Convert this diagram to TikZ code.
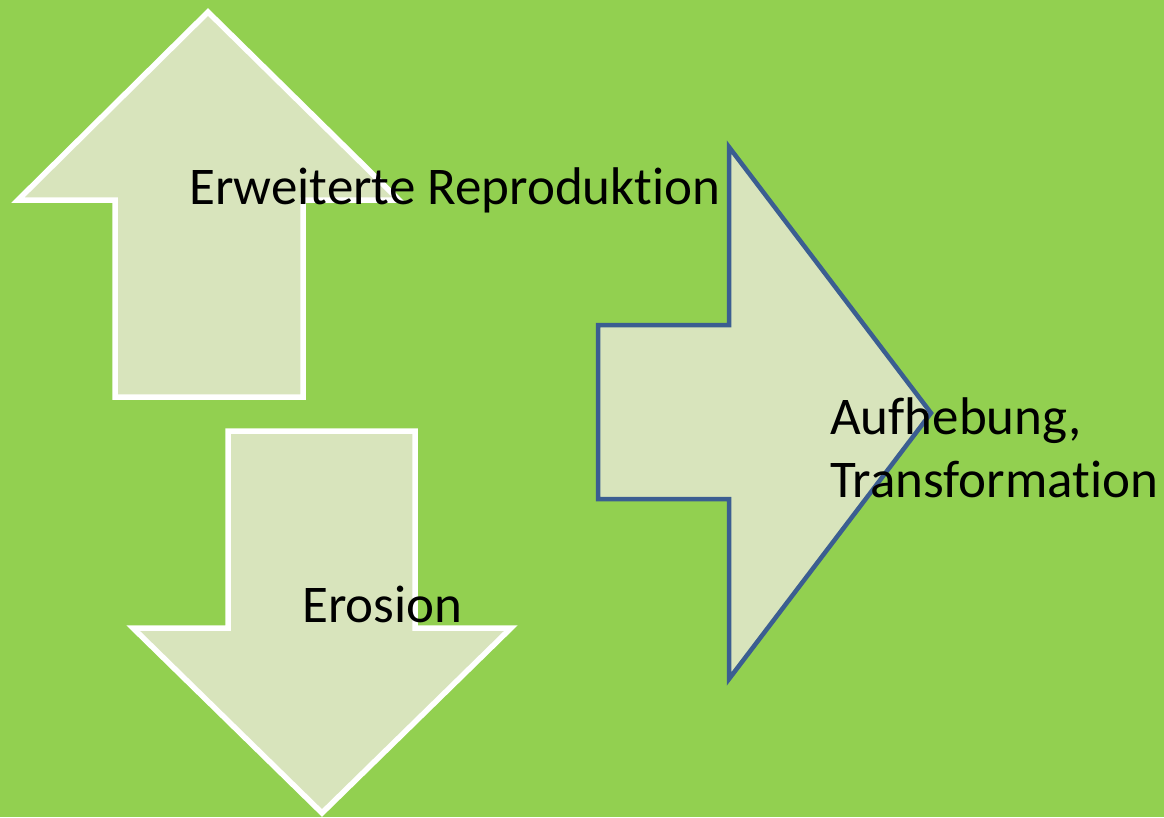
\documentclass[tikz,border=0pt]{standalone}
\usepackage{fontspec}
\setmainfont{Carlito}[Ligatures={NoCommon,NoContextual,NoRare}]
\usepackage{tikz}

\definecolor{bggreen}{HTML}{92D050}
\definecolor{arrowfill}{HTML}{D8E4BC}
\definecolor{arrowblue}{HTML}{3B5E91}

\tikzset{
    bigarrow/.style={fill=arrowfill, line width=4.5pt, line join=miter},
    label/.style={font=\fontsize{53}{63}\selectfont, inner sep=0pt, anchor=base west, align=left}
}

\begin{document}
\begin{tikzpicture}[x=1pt, y=-1pt]
        \fill[bggreen] (0,0) rectangle (1164,817);
        \useasboundingbox (0,0) rectangle (1164,817);

        % up
        \draw[bigarrow, draw=white, line width=5.5pt] (208,12) -- (399,200) -- (303,200) -- (303,397)
            -- (115,397) -- (115,200) -- (18,200) -- cycle;
        % down
        \draw[bigarrow, draw=white, line width=5.5pt] (228,431) -- (415,431) -- (415,628) -- (511,628)
            -- (322,813) -- (133,628) -- (228,628) -- cycle;
        % right
        \draw[bigarrow, draw=arrowblue] (598,325) -- (729,325) -- (729,147) -- (931,413)
            -- (729,679) -- (729,499) -- (598,499) -- cycle;

        \node[label] (repro) at (189,204) {Erweiterte Reproduktion};
        \node[label] (erosion) at (302,622) {Erosion};
        \node[label] (aufh) at (830,497) {Aufhebung,\\Transformation};
    \end{tikzpicture}
\end{document}
